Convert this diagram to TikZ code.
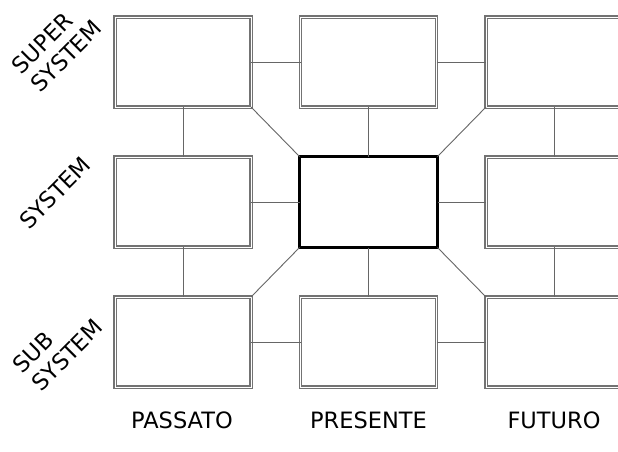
\documentclass[tikz,border=0pt]{standalone}
\usepackage{fontspec}
\setmainfont{DejaVu Sans}
\begin{document}
\begin{tikzpicture}[x=1pt,y=-1pt,
  cell/.style={draw=black!55, double=white, line width=1.2pt, double distance=0.9pt,
    minimum width=136pt, minimum height=90pt, inner sep=0pt, outer sep=0pt},
  core/.style={draw=black, line width=2.4pt, minimum width=138pt, minimum height=91pt,
    inner sep=0pt, outer sep=0pt},
  link/.style={draw=black!60, line width=0.9pt},
  lbl/.style={font=\fontsize{22.5}{22.5}\selectfont, inner sep=0pt},
  side/.style={font=\fontsize{22.5}{26}\selectfont, inner sep=0pt, rotate=45, align=left}]
\useasboundingbox (0,0) rectangle (618,451);
\clip (0,0) rectangle (618,451);
\fill[white] (0,0) rectangle (618,451);
% boxes
\node[cell] (tl) at (183,62) {};
\node[cell] (tm) at (368.5,62) {};
\node[cell] (tr) at (554,62) {};
\node[cell] (ml) at (183,202) {};
\node[core] (c)  at (368.5,202) {};
\node[cell] (mr) at (554,202) {};
\node[cell] (bl) at (183,342) {};
\node[cell] (bm) at (368.5,342) {};
\node[cell] (br) at (554,342) {};
% connectors
\draw[link] (tl.east) -- (tm.west);
\draw[link] (tm.east) -- (tr.west);
\draw[link] (ml.east) -- (c.west);
\draw[link] (c.east) -- (mr.west);
\draw[link] (bl.east) -- (bm.west);
\draw[link] (bm.east) -- (br.west);
\draw[link] (tl.south) -- (ml.north);
\draw[link] (ml.south) -- (bl.north);
\draw[link] (tm.south) -- (c.north);
\draw[link] (c.south) -- (bm.north);
\draw[link] (tr.south) -- (mr.north);
\draw[link] (mr.south) -- (br.north);
\draw[link] (tl.south east) -- (c.north west);
\draw[link] (tr.south west) -- (c.north east);
\draw[link] (bl.north east) -- (c.south west);
\draw[link] (br.north west) -- (c.south east);
% labels
\node[lbl] (p1) at (182,420) {PASSATO};
\node[lbl] (p2) at (368.5,420) {PRESENTE};
\node[lbl] (p3) at (554,420) {FUTURO};
\node[side] (s1) at (57,47) {SUPER\\SYSTEM};
\node[side] (s2) at (55,193) {SYSTEM};
\node[side] (s3) at (58,346) {SUB\\SYSTEM};
\end{tikzpicture}
\end{document}
